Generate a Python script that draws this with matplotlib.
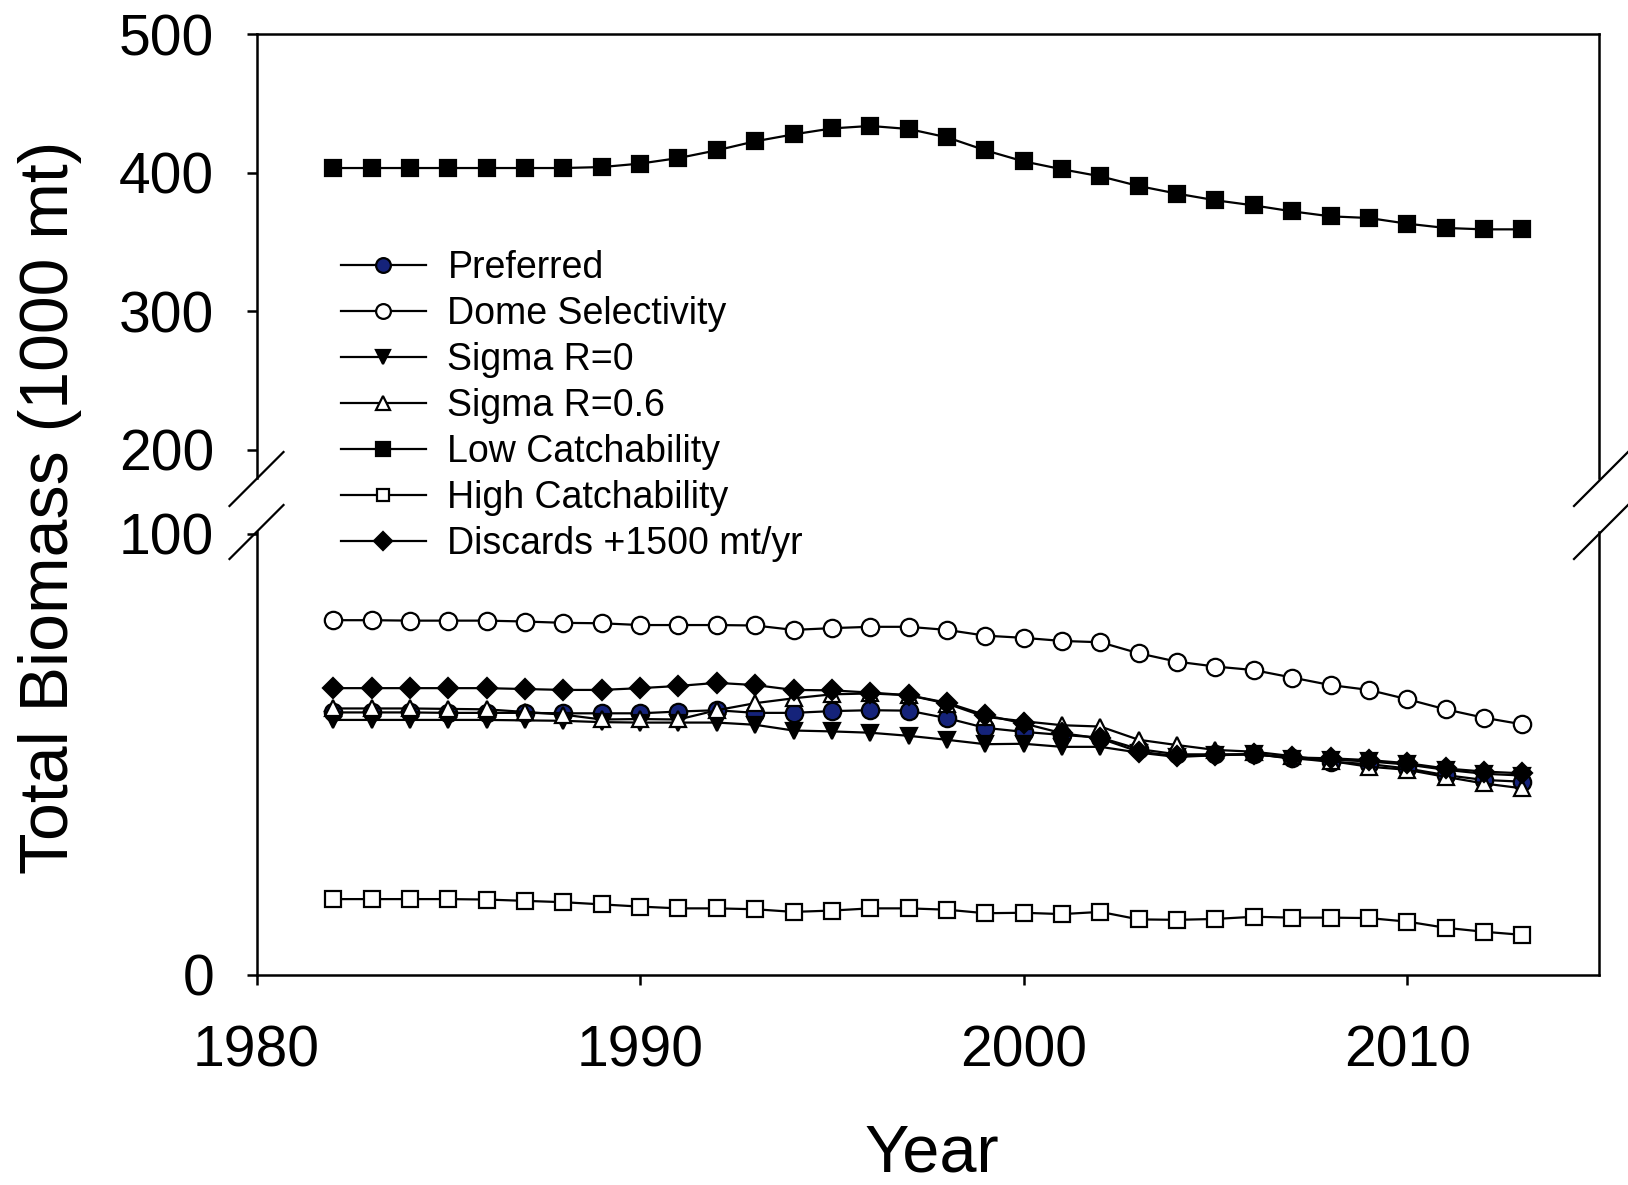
import numpy as np
import matplotlib
matplotlib.use("Agg")
import matplotlib.pyplot as plt
from matplotlib.lines import Line2D

plt.rcParams['font.family'] = ['Liberation Sans', 'DejaVu Sans']

years = list(range(1982, 2014))

preferred = [59.5, 59.5, 59.5, 59.4, 59.4, 59.4, 59.3, 59.3, 59.3, 59.7, 60.0, 59.4,
             59.4, 59.8, 60.0, 59.9, 58.2, 56.0, 55.1, 54.4, 53.8, 51.2, 50.0, 50.0,
             50.0, 49.2, 48.3, 47.8, 46.8, 45.3, 44.2, 43.8]
dome = [80.4, 80.4, 80.3, 80.3, 80.3, 80.1, 79.8, 79.7, 79.3, 79.3, 79.3, 79.2,
        78.2, 78.6, 78.9, 78.9, 78.2, 76.9, 76.4, 75.7, 75.4, 72.9, 71.0, 69.9,
        69.1, 67.4, 65.7, 64.6, 62.5, 60.2, 58.3, 56.8]
sigma_r0 = [57.8, 57.8, 57.8, 57.8, 57.8, 57.7, 57.6, 57.3, 57.2, 57.2, 57.2, 56.7,
            55.4, 55.2, 54.9, 54.2, 53.3, 52.3, 52.4, 51.7, 51.7, 50.4, 49.4, 49.8,
            50.1, 49.0, 48.8, 48.4, 47.7, 46.5, 45.6, 45.2]
sigma_r06 = [60.4, 60.4, 60.4, 60.3, 60.2, 59.6, 59.0, 57.9, 58.0, 57.9, 60.0, 61.6,
             62.7, 63.6, 63.8, 63.4, 61.5, 58.5, 57.5, 56.6, 56.3, 53.3, 52.1, 51.0,
             50.6, 49.6, 48.5, 47.2, 46.5, 44.9, 43.4, 42.3]
low_catch = [403.4, 403.4, 403.4, 403.4, 403.4, 403.4, 403.4, 404.1, 406.6, 410.6,
             416.2, 422.7, 427.7, 432.0, 433.8, 431.6, 425.6, 416.2, 408.2, 402.5,
             397.4, 390.4, 384.9, 380.1, 376.4, 372.1, 368.5, 367.3, 363.2, 360.1,
             359.1, 359.1]
high_catch = [17.2, 17.2, 17.2, 17.2, 17.1, 16.8, 16.5, 16.0, 15.5, 15.1, 15.1, 14.9,
              14.3, 14.6, 15.1, 15.1, 14.8, 14.0, 14.1, 13.8, 14.3, 12.6, 12.5, 12.7,
              13.2, 13.0, 13.0, 12.9, 12.1, 10.7, 9.8, 9.1]
discards = [65.0, 65.0, 65.0, 65.0, 65.0, 64.8, 64.6, 64.6, 65.0, 65.5, 66.2, 65.7,
            64.6, 64.5, 64.0, 63.4, 61.7, 58.9, 57.0, 54.8, 53.6, 50.6, 49.6, 49.8,
            50.0, 49.3, 49.1, 48.7, 48.0, 46.8, 46.1, 45.7]

labels = ["Preferred", "Dome Selectivity", "Sigma R=0", "Sigma R=0.6",
          "Low Catchability", "High Catchability", "Discards +1500 mt/yr"]
x_ticks = [1980, 1990, 2000, 2010]
y_ticks = [0, 100, 200, 300, 400, 500]

# broken y-axis: piecewise linear scale
BRK_V = [0.0, 100.0, 200.0, 500.0]
BRK_T = [0.0, 441.3, 525.4, 940.7]


def _pw(x, xp, fp):
    x = np.asarray(x, dtype=float)
    out = np.interp(x, xp, fp)
    lo_s = (fp[1] - fp[0]) / (xp[1] - xp[0])
    hi_s = (fp[-1] - fp[-2]) / (xp[-1] - xp[-2])
    out = np.where(x < xp[0], fp[0] + (x - xp[0]) * lo_s, out)
    out = np.where(x > xp[-1], fp[-1] + (x - xp[-1]) * hi_s, out)
    return out


def fwd(y):
    return _pw(y, BRK_V, BRK_T)


def inv(t):
    return _pw(t, BRK_T, BRK_V)


W, H = 1628, 1185
fig = plt.figure(figsize=(W / 100, H / 100), dpi=100)
ax_l, ax_r, ax_t, ax_b = 256.5, 1599.0, 34.3, 975.0
ax = fig.add_axes([ax_l / W, 1 - ax_b / H, (ax_r - ax_l) / W, (ax_b - ax_t) / H])
ax.set_yscale('function', functions=(fwd, inv))
ax.set_xlim(1980, 2015)
ax.set_ylim(0, 500)

navy = '#15237a'
lw = 1.6
mew = 1.6
styles = [
    dict(marker='o', mfc=navy, ms=12.5),
    dict(marker='o', mfc='white', ms=12.5),
    dict(marker='v', mfc='black', ms=11.5),
    dict(marker='^', mfc='white', ms=11.5),
    dict(marker='s', mfc='black', ms=12),
    dict(marker='s', mfc='white', ms=11),
    dict(marker='D', mfc='black', ms=10.5),
]
series = [preferred, dome, sigma_r0, sigma_r06, low_catch, high_catch, discards]
for vals, st, lab in zip(series, styles, labels):
    ax.plot(years, vals, color='black', lw=lw, mec='black', mew=mew, label=lab, **st)

ax.set_xticks(x_ticks)
ax.set_yticks(y_ticks)
ax.yaxis.set_minor_locator(matplotlib.ticker.NullLocator())
ax.xaxis.set_minor_locator(matplotlib.ticker.NullLocator())
ax.tick_params(axis='both', direction='out', length=7.5, width=1.8, labelsize=41)
ax.tick_params(axis='y', pad=23)
ax.tick_params(axis='x', pad=28)

for s in ['top', 'bottom']:
    ax.spines[s].set_linewidth(1.8)
ax.spines['left'].set_visible(False)
ax.spines['right'].set_visible(False)

# spines with break
g_lo = (ax_b - 531.7) / (ax_b - ax_t)
g_hi = (ax_b - 477.5) / (ax_b - ax_t)
for xa in (0.0, 1.0):
    for y0, y1 in ((0.0, g_lo), (g_hi, 1.0)):
        ax.add_line(Line2D([xa, xa], [y0, y1], transform=ax.transAxes, color='black',
                           lw=1.8, clip_on=False, solid_capstyle='projecting'))

for cx in (256.5, 1601.0):
    for yc in (479.0, 532.0):
        xs = [(cx - 27) / W, (cx + 27) / W]
        ys = [1 - (yc + 27) / H, 1 - (yc - 27) / H]
        fig.add_artist(Line2D(xs, ys, transform=fig.transFigure, color='black', lw=1.6))

ax.set_xlabel('Year', fontsize=48, va='center')
ax.xaxis.set_label_coords((932 - ax_l) / (ax_r - ax_l), (ax_b - 1154) / (ax_b - ax_t))
ax.set_ylabel('Total Biomass (1000 mt)', fontsize=49, va='center')
ax.yaxis.set_label_coords((50 - ax_l) / (ax_r - ax_l), (ax_b - 507.7) / (ax_b - ax_t))

leg = ax.legend(loc='upper left', bbox_to_anchor=(340.6 / W, 1 - 250.5 / H),
                bbox_transform=fig.transFigure, frameon=False, fontsize=27,
                handlelength=2.27, handletextpad=0.58, labelspacing=0.264,
                borderpad=0, borderaxespad=0, markerscale=0.85)

fig.savefig('out.png', dpi=100)
